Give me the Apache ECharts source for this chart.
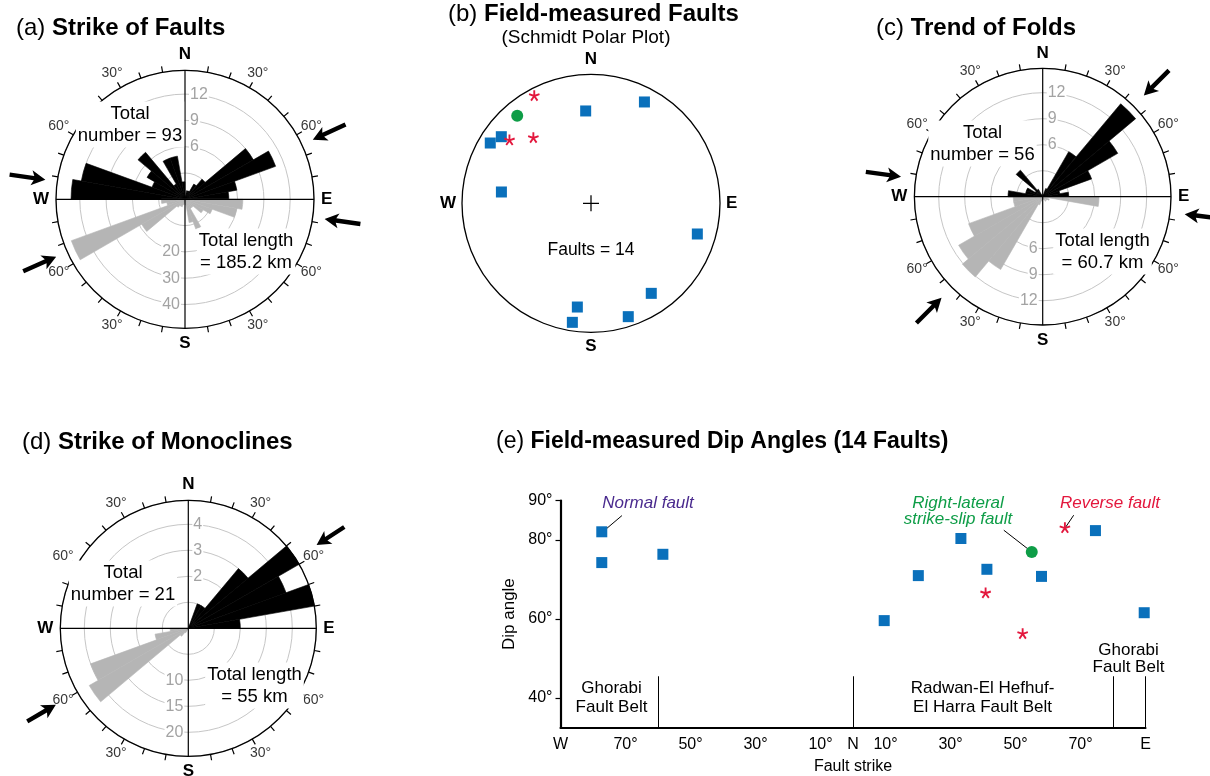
<!DOCTYPE html>
<html><head><meta charset="utf-8">
<script src="https://cdn.jsdelivr.net/npm/echarts@6/dist/echarts.min.js"></script>
<style>html,body{margin:0;padding:0;background:#fff}#c{width:1210px;height:776px}</style>
</head><body><div id="c"></div>
<script>
const FONT = '"Liberation Sans", Arial, Helvetica, sans-serif';

// ================= DATA =================
// Rose-diagram bins: start azimuth of each 10° bin
const BIN = 10;
const northBins = [270,280,290,300,310,320,330,340,350,0,10,20,30,40,50,60,70,80];
const southBins = [90,100,110,120,130,140,150,160,170,180,190,200,210,220,230,240,250,260];

// (a) Strike of Faults: number (north half) and length in km (south half)
const faultCount  = [13,12,4,5,7,2,5,5,2, 0,1,1,2,3,9,11,6,5];
const faultLength = [22,20,11,8,4,4,12,9,2, 1,2,3,3,4,19,46,7,9];
const faultCountRings  = [6,9,12];
const faultLengthRings = [20,30,40];
const faultArrows = [65,98,246,278];

// (c) Trend of Folds
const foldCount  = [4,2,2,1,4,1,0,0,0, 0,0,1,6,14,10,6,2,3];
const foldLength = [6.5,0.5,0.8,0.6,0.4,0.6,0.3,0.3,0, 0.3,0.5,1,9.7,12.1,11.2,9.1,3.4,3.4];
const foldCountRings  = [6,9,12];
const foldLengthRings = [6,9,12];
const foldArrows = [45,97,225,278];

// (d) Strike of Monoclines
const monoCount  = [0,0,0,0,0,0,0,0,0, 0,0,1,1,3,5,4,5,2];
const monoLength = [0,0,0,0,0,0,0,0,0, 0,0,0,1,2,22,20,6.5,3.5];
const monoCountRings  = [2,3,4];
const monoLengthRings = [10,15,20];
const monoArrows = [57,240];

// Rose compass labels
const cardinalAz = [0,90,180,270];
const cardinalLabels = ['N','E','S','W'];
const degreeAz = [30,60,120,150,210,240,300,330];
const degreeLabels = ['30°','60°','60°','30°','30°','60°','60°','30°'];

// (b) Schmidt polar plot: azimuth (deg) and normalised radius of poles
const normalPoleAz  = [356.7,27.8,306.6,300.9,277.2,106.1,146.2,187.5,188.9,161.8];
const normalPoleR   = [0.717,0.888,0.866,0.91,0.70,0.858,0.84,0.811,0.934,0.925];
const reversePoleAz = [332.2,307.8,318.7];
const reversePoleR  = [0.943,0.80,0.677];
const slipPoleAz    = [319.9];
const slipPoleR     = [0.888];

// (e) Dip angles vs strike (negative = W of N, positive = E of N)
const normalStrike  = [-77.3,-77.3,-58.5,9.6,20.1,33.2,41.2,58,74.6,89.6];
const normalDip     = [82.1,74.3,76.4,59.6,71.0,80.4,72.6,70.8,82.4,61.6];
const reverseStrike = [40.8,52.2,65.2];
const reverseDip    = [66.6,56.3,83.1];
const slipStrike    = [55];
const slipDip       = [77.0];
const strikeTicks      = [-90,-70,-50,-30,-10,0,10,30,50,70,90];
const strikeTickLabels = ['W','70°','50°','30°','10°','N','10°','30°','50°','70°','E'];
const dipTicks = [40,60,80,90];
const beltBounds = [-60,0,80,90];
const beltTop = 45.5;

// ================= LAYOUT / STYLE =================
const L_a = {cx:185, cy:199.3, r:129, ring:26.3, tip:1.093, len:0.28};
const L_c = {cx:1042.7, cy:196.7, r:128.3, ring:26, tip:1.115, len:0.277};
const L_d = {cx:188.3, cy:628.3, r:128, ring:26, tip:1.195, len:0.258};
const L_b = {cx:591, cy:203.3, r:129};
const DEG_LABEL_R = 1.13;
const RING = '#c6c6c6', RINGLABEL = '#a3a3a3', GRAYBAR = '#b5b5b5';
const BLUE = '#0a70bb', RED = '#e3173d', GREEN = '#0e9d47', PURPLE = '#4a2a8e';
const STAR = 'path://M11.7,10L11.7,0L8.3,0L8.3,10Z' +
  'M10.525,11.617L20.035,8.527L18.985,5.293L9.475,8.383Z' +
  'M8.625,11L14.503,19.09L17.253,17.09L11.375,9Z' +
  'M8.625,9L2.747,17.09L5.497,19.09L11.375,11Z' +
  'M10.525,8.383L1.014,5.293L-0.036,8.527L9.475,11.617Z';
const PLUS = 'path://M7,0h1.2v15.2h-1.2zM0,7h15.2v1.2h-15.2z';

const polars = [], angleAxes = [], radiusAxes = [], series = [], graphics = [];
function addPolar(L, angleAxis, radiusAxis) {
  polars.push({center:[L.cx, L.cy], radius:[0, L.r]});
  const idx = polars.length - 1;
  angleAxes.push(Object.assign({polarIndex: idx}, angleAxis));
  radiusAxes.push(Object.assign({polarIndex: idx}, radiusAxis));
  return idx;
}
const hiddenAngle = {axisLine:{show:false}, axisTick:{show:false}, axisLabel:{show:false}, splitLine:{show:false}};
const cardMap = {}; cardinalAz.forEach((a,i)=>cardMap[a]=cardinalLabels[i]);

function arrowShape(tip, tail) {
  const dx = tip[0]-tail[0], dy = tip[1]-tail[1];
  const len = Math.hypot(dx,dy), ux = dx/len, uy = dy/len, px = -uy, py = ux;
  const hl = 14, hw = 7.5, sw = 2.2;
  const bx = tip[0]-ux*hl, by = tip[1]-uy*hl;
  const pts = [
    [tail[0]+px*sw, tail[1]+py*sw], [bx+ux*2.5+px*sw, by+uy*2.5+py*sw], [bx+px*hw, by+py*hw], tip,
    [bx-px*hw, by-py*hw], [bx+ux*2.5-px*sw, by+uy*2.5-py*sw], [tail[0]-px*sw, tail[1]-py*sw]];
  return {type:'polygon', shape:{points:pts}, style:{fill:'#000'}};
}

// rose petal: sector of one 10° bin, radius from the polar's radius axis
function petalSeries(polarIndex, data, color) {
  return {type:'custom', coordinateSystem:'polar', polarIndex, z:3, silent:true,
    encode:{radius:0, angle:1}, data,
    renderItem: (params, api) => {
      const cs = params.coordSys;
      const v = api.value(0), a = api.value(1);
      const p1 = api.coord([v, a]), p2 = api.coord([v, a + BIN]);
      const r = Math.min(cs.r, Math.hypot(p1[0]-cs.cx, p1[1]-cs.cy));
      return {type:'sector',
        shape:{cx:cs.cx, cy:cs.cy, r0:0, r,
          startAngle:Math.atan2(p1[1]-cs.cy, p1[0]-cs.cx),
          endAngle:Math.atan2(p2[1]-cs.cy, p2[0]-cs.cx), clockwise:true},
        style:{fill:color, stroke:color, lineWidth:0.6}};
    }};
}

function rose(L, counts, lengths, cRings, lRings, arrows) {
  const cStep = cRings[1]-cRings[0], lStep = lRings[1]-lRings[0];
  // north half: counts (angle axis starts at N)
  const iT = addPolar(L,
    Object.assign({type:'value', min:0, max:360, startAngle:90, clockwise:true}, hiddenAngle),
    {type:'value', min:0, max:cStep*L.r/L.ring, interval:cStep,
     axisLine:{show:false}, axisTick:{show:false},
     splitLine:{show:true, lineStyle:{color:RING, width:1}},
     axisLabel:{show:true, customValues:cRings, margin:-4, align:'left', verticalAlign:'middle',
       color:RINGLABEL, fontSize:16, fontFamily:FONT, backgroundColor:'#fff', padding:[0,1,0,1]}});
  series.push(petalSeries(iT,
    northBins.map((az,k)=>[counts[k], az]).filter(d => d[0] > 0), '#000'));
  // south half: lengths (angle axis starts at S, so its radius labels run downward)
  const iB = addPolar(L,
    Object.assign({type:'value', min:0, max:360, startAngle:270, clockwise:true}, hiddenAngle),
    {type:'value', min:0, max:lStep*L.r/L.ring, interval:lStep,
     axisLine:{show:false}, axisTick:{show:false}, splitLine:{show:false},
     axisLabel:{show:true, customValues:lRings, margin:-4, align:'right', verticalAlign:'middle',
       color:RINGLABEL, fontSize:16, fontFamily:FONT, backgroundColor:'#fff', padding:[0,1,0,1]}});
  series.push(petalSeries(iB,
    southBins.map((az,k)=>[lengths[k], (az - 180 + 360) % 360]).filter(d => d[0] > 0), GRAYBAR));
  // frame: circle, cross, 10° ticks, cardinal letters
  const iF = addPolar(L,
    {type:'value', min:0, max:360, interval:90, startAngle:90, clockwise:true, z:8,
     axisLine:{show:true, lineStyle:{color:'#000', width:1.3}},
     axisTick:{show:false},
     minorTick:{show:true, splitNumber:9, length:6, lineStyle:{color:'#000', width:1.2}},
     splitLine:{show:true, lineStyle:{color:'#000', width:1.2}},
     axisLabel:{show:true, margin:7, color:'#000', fontSize:17, fontWeight:'bold', fontFamily:FONT,
       formatter: v => cardMap[v] || ''}},
    {type:'value', min:0, max:1, show:false});
  // degree labels, centred just outside the circle
  series.push({type:'scatter', coordinateSystem:'polar', polarIndex:iF, clip:false, silent:true,
    symbol:'circle', symbolSize:1, itemStyle:{color:'rgba(0,0,0,0)'}, z:9,
    data: degreeAz.map((a,i)=>({name:degreeLabels[i], value:[DEG_LABEL_R, a]})),
    label:{show:true, position:'inside', formatter:'{b}', color:'#000', fontSize:14, fontFamily:FONT,
      align:'center', verticalAlign:'middle'}});
  // stress arrows
  series.push({type:'custom', coordinateSystem:'polar', polarIndex:iF, z:9, silent:true,
    encode:{radius:0, angle:1},
    data: arrows.map(az => [L.tip, az]),
    renderItem: (params, api) => arrowShape(
      api.coord([api.value(0), api.value(1)]),
      api.coord([api.value(0) + L.len, api.value(1)]))});
}

rose(L_a, faultCount, faultLength, faultCountRings, faultLengthRings, faultArrows);
rose(L_c, foldCount, foldLength, foldCountRings, foldLengthRings, foldArrows);
rose(L_d, monoCount, monoLength, monoCountRings, monoLengthRings, monoArrows);

// (b) Schmidt polar plot
const iS = addPolar(L_b,
  {type:'value', min:0, max:360, interval:90, startAngle:90, clockwise:true, z:8,
   axisLine:{show:true, lineStyle:{color:'#000', width:1.3}},
   axisTick:{show:false}, splitLine:{show:false},
   axisLabel:{show:true, margin:6, color:'#000', fontSize:17, fontWeight:'bold', fontFamily:FONT,
     formatter: v => cardMap[v] || ''}},
  {type:'value', min:0, max:1, show:false});
series.push({type:'scatter', coordinateSystem:'polar', polarIndex:iS, symbol:PLUS, symbolSize:16,
  itemStyle:{color:'#000', opacity:1}, data:[[0,0]], silent:true, z:4});
series.push({type:'scatter', coordinateSystem:'polar', polarIndex:iS, symbol:'rect', symbolSize:11,
  itemStyle:{color:BLUE, opacity:1}, data: normalPoleAz.map((a,i)=>[normalPoleR[i], a]), z:5});
series.push({type:'scatter', coordinateSystem:'polar', polarIndex:iS, symbol:STAR, symbolSize:11,
  itemStyle:{color:RED, opacity:1}, data: reversePoleAz.map((a,i)=>[reversePoleR[i], a]), z:5});
series.push({type:'scatter', coordinateSystem:'polar', polarIndex:iS, symbol:'circle', symbolSize:12,
  itemStyle:{color:GREEN, opacity:1}, data: slipPoleAz.map((a,i)=>[slipPoleR[i], a]), z:5});

// (e) dip angle chart
const leaderLines = [[-71.1,86.2,-76.7,82.3],[46.4,82.5,55.0,77.0],[67.9,86.3,64.8,82.5]];
const yMin = 32.5;
series.push({type:'scatter', xAxisIndex:0, yAxisIndex:0, symbol:'rect', symbolSize:11,
  itemStyle:{color:BLUE, opacity:1}, z:5,
  data: normalStrike.map((s,i)=>[s, normalDip[i]]),
  markLine:{silent:true, symbol:['none','none'], animation:false, label:{show:false},
    lineStyle:{color:'#000', width:1, type:'solid', opacity:1},
    data: beltBounds.map(x => [{coord:[x, yMin]}, {coord:[x, beltTop]}])
      .concat(leaderLines.map(l => [{coord:[l[0], l[1]]}, {coord:[l[2], l[3]]}]))}});
series.push({type:'scatter', xAxisIndex:0, yAxisIndex:0, symbol:STAR, symbolSize:11,
  itemStyle:{color:RED, opacity:1}, z:5, data: reverseStrike.map((s,i)=>[s, reverseDip[i]])});
series.push({type:'scatter', xAxisIndex:0, yAxisIndex:0, symbol:'circle', symbolSize:12,
  itemStyle:{color:GREEN, opacity:1}, z:5, data: slipStrike.map((s,i)=>[s, slipDip[i]])});

// ================= TEXT =================
function txt(x, y, text, st) {
  graphics.push({type:'text', x, y, z:50, silent:true,
    style: Object.assign({text, fill:'#000', fontSize:18.5, fontFamily:FONT,
      align:'center', verticalAlign:'middle', lineHeight:22}, st || {})});
}
function title(x, y, tag, name, fs) {
  graphics.push({type:'text', x, y, z:50, silent:true,
    style:{text:'{n|' + tag + '} {b|' + name + '}', fill:'#000', fontSize:fs, fontFamily:FONT,
      align:'left', verticalAlign:'middle',
      rich:{n:{fontSize:fs, fontFamily:FONT, fill:'#000'}, b:{fontSize:fs, fontWeight:'bold', fontFamily:FONT, fill:'#000'}}}});
}
title(16, 28, '(a)', 'Strike of Faults', 24);
title(448, 14, '(b)', 'Field-measured Faults', 24);
txt(586, 38, '(Schmidt Polar Plot)', {fontSize:19});
title(876, 28, '(c)', 'Trend of Folds', 24);
title(22, 442, '(d)', 'Strike of Monoclines', 24);
title(496, 442, '(e)', 'Field-measured Dip Angles (14 Faults)', 23);

const WB = {backgroundColor:'#fff', padding:[1,2,1,2]};
txt(130, 124.5, 'Total\nnumber = 93', WB);
txt(246, 251.5, 'Total length\n= 185.2 km', WB);
txt(982.5, 143.5, 'Total\nnumber = 56', WB);
txt(1102.5, 251.5, 'Total length\n= 60.7 km', WB);
txt(123, 583.5, 'Total\nnumber = 21', WB);
txt(254.5, 685.5, 'Total length\n= 55 km', WB);
txt(591, 250, 'Faults = 14', {fontSize:17.5});

txt(648, 503, 'Normal fault', {fontSize:17, fontStyle:'italic', fill:PURPLE});
txt(958, 511, 'Right-lateral\nstrike-slip fault', {fontSize:17, fontStyle:'italic', fill:GREEN, lineHeight:16});
txt(1110, 503, 'Reverse fault', {fontSize:17, fontStyle:'italic', fill:RED});
txt(611.5, 697.5, 'Ghorabi\nFault Belt', {fontSize:17, lineHeight:19});
txt(982.5, 697.5, 'Radwan-El Hefhuf-\nEl Harra Fault Belt', {fontSize:17, lineHeight:19});
txt(1128.5, 658.5, 'Ghorabi\nFault Belt', {fontSize:17, lineHeight:17});

// ================= OPTION =================
const strikeLabelMap = {}; strikeTicks.forEach((v,i)=>strikeLabelMap[v]=strikeTickLabels[i]);
const option = {
  animation:false,
  backgroundColor:'#fff',
  textStyle:{fontFamily:FONT},
  polar: polars,
  angleAxis: angleAxes,
  radiusAxis: radiusAxes,
  grid:[{left:560.5, top:500.6, width:585, height:227}],
  xAxis:[{type:'value', gridIndex:0, min:-90, max:90,
    axisLine:{show:true, onZero:false, lineStyle:{color:'#000', width:2.2}},
    axisTick:{show:false}, splitLine:{show:false},
    axisLabel:{customValues:strikeTicks, formatter: v => strikeLabelMap[v] || '', color:'#000', fontSize:16, margin:9, fontFamily:FONT},
    name:'Fault strike', nameLocation:'middle', nameGap:31,
    nameTextStyle:{color:'#000', fontSize:16, fontFamily:FONT}}],
  yAxis:[{type:'value', gridIndex:0, min:yMin, max:90,
    axisLine:{show:true, onZero:false, lineStyle:{color:'#000', width:2.2}},
    axisTick:{show:true, customValues:dipTicks, length:5, lineStyle:{color:'#000', width:1.2}},
    splitLine:{show:false},
    axisLabel:{customValues:dipTicks, formatter: v => v + '°', color:'#000', fontSize:16, margin:8, fontFamily:FONT},
    name:'Dip angle', nameLocation:'middle', nameGap:43, nameRotate:90,
    nameTextStyle:{color:'#000', fontSize:17, fontFamily:FONT}}],
  series: series,
  graphic: graphics
};
const chart = echarts.init(document.getElementById('c'));
chart.setOption(option);
</script>
</body></html>
